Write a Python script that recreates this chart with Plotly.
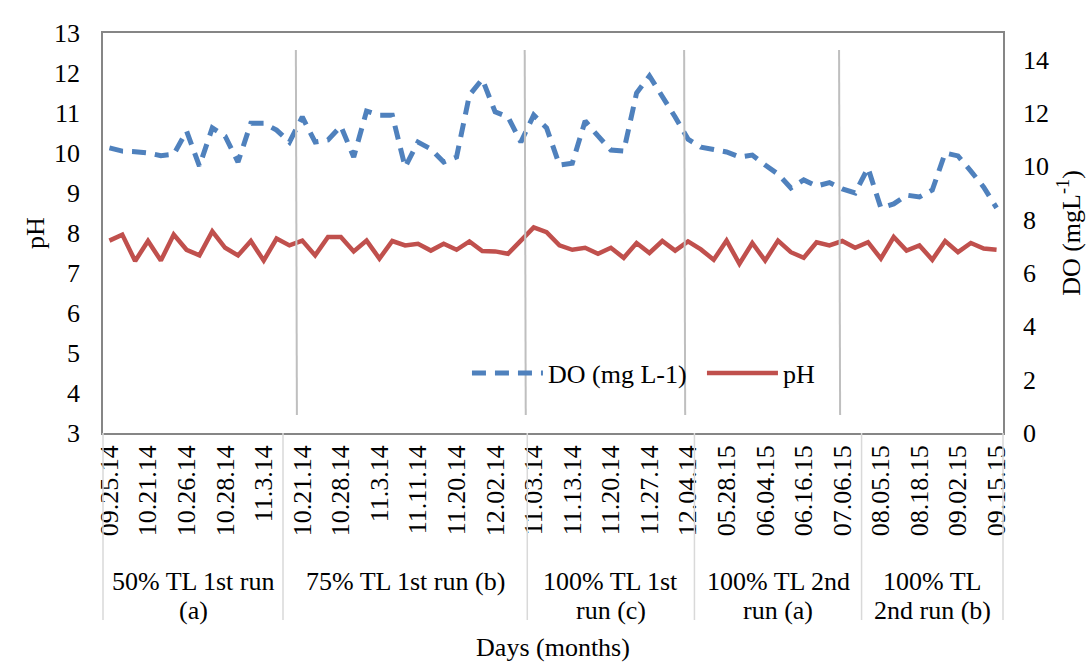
import plotly.graph_objects as go

# ---------------- data ----------------
tick_labels = ["09.25.14", "10.21.14", "10.26.14", "10.28.14", "11.3.14",
               "10.21.14", "10.28.14", "11.3.14", "11.11.14", "11.20.14", "12.02.14",
               "11.03.14", "11.13.14", "11.20.14", "11.27.14", "12.04.14",
               "05.28.15", "06.04.15", "06.16.15", "07.06.15",
               "08.05.15", "08.18.15", "09.02.15", "09.15.15"]
label_every = 3

group_line1 = ["50% TL 1st run", "75% TL 1st run (b)", "100% TL 1st", "100% TL 2nd", "100% TL"]
group_line2 = ["(a)", "", "run (c)", "run (a)", "2nd run (b)"]
group_sizes = [14, 19, 13, 13, 11]

ph = [7.81, 7.96, 7.30, 7.80, 7.31, 7.96, 7.58, 7.44, 8.04, 7.63, 7.44, 7.80, 7.31, 7.86,
      7.69, 7.81, 7.44, 7.90, 7.90, 7.54, 7.81, 7.36, 7.80, 7.69, 7.73, 7.56, 7.73, 7.58, 7.79,
      7.55, 7.54, 7.48, 7.81,
      8.14, 8.02, 7.69, 7.58, 7.63, 7.48, 7.63, 7.38, 7.75, 7.50, 7.80, 7.56, 7.79,
      7.59, 7.33, 7.81, 7.23, 7.75, 7.31, 7.81, 7.52, 7.38, 7.77, 7.69, 7.80, 7.63,
      7.77, 7.36, 7.90, 7.56, 7.69, 7.33, 7.80, 7.52, 7.75, 7.61, 7.58]

do = [10.69, 10.57, 10.55, 10.50, 10.40, 10.45, 11.32, 10.01, 11.44, 11.13, 10.16, 11.62, 11.62, 11.36,
      10.91, 11.85, 10.91, 10.99, 11.51, 10.35, 12.07, 11.92, 11.92, 9.97, 10.91, 10.65, 10.16, 10.35,
      12.67, 13.27, 12.04, 11.85, 10.91,
      11.92, 11.44, 10.05, 10.12, 11.70, 11.14, 10.61, 10.57, 12.75, 13.39, 12.64, 11.85, 11.02,
      10.72, 10.63, 10.54, 10.35, 10.42, 10.05, 9.71, 9.19, 9.49, 9.26, 9.39, 9.15, 9.00,
      9.94, 8.44, 8.59, 8.92, 8.85, 9.11, 10.50, 10.39, 9.82, 9.22, 8.44]

# hand-drawn run dividers inside the plot (category units)
divider_x = [14.5, 32.3, 44.7, 56.75]

n = len(ph)
x = list(range(n))

FONT = "Liberation Serif"
FS = 26
BLUE = "#4F81BD"
RED = "#C0504D"
FRAME = "#868686"
SEP = "#D9D9D9"

fig = go.Figure()
fig.add_trace(go.Scatter(x=x, y=do, name="DO (mg L-1)", mode="lines", yaxis="y2",
                         line=dict(color=BLUE, width=5, dash="14px,9px")))
fig.add_trace(go.Scatter(x=x, y=ph, name="pH", mode="lines", yaxis="y",
                         line=dict(color=RED, width=4.5)))

shapes = []
# dividers inside plot
for dx in divider_x:
    shapes.append(dict(type="line", xref="x", yref="paper", x0=dx, x1=dx + 0.08,
                       y0=0.9575, y1=0.045, line=dict(color="#BFBFBF", width=2)))

# multi-level category separators below the axis
bounds = [0]
for s in group_sizes:
    bounds.append(bounds[-1] + s)
for b in bounds:
    px = b / n
    shapes.append(dict(type="line", xref="paper", yref="paper", x0=px, x1=px,
                       y0=0, y1=-0.4675, line=dict(color=SEP, width=1.5)))

annotations = []
for i in range(len(group_sizes)):
    cx = (bounds[i] + bounds[i + 1] - 1) / 2
    for txt, yy in ((group_line1[i], -0.37), (group_line2[i], -0.443)):
        if txt:
            annotations.append(dict(x=cx, xref="x", y=yy, yref="paper", text=txt,
                                    showarrow=False, yanchor="middle", xanchor="center",
                                    font=dict(family=FONT, size=FS, color="black")))

fig.update_layout(
    width=1086, height=666, autosize=False,
    margin=dict(l=103, r=83, t=33, b=233),
    paper_bgcolor="white", plot_bgcolor="white",
    font=dict(family=FONT, size=FS, color="black"),
    showlegend=True,
    legend=dict(orientation="h", x=0.4044, y=0.15, xanchor="left", yanchor="middle",
                bgcolor="rgba(0,0,0,0)", font=dict(family=FONT, size=FS),
                itemwidth=71, entrywidth=149, tracegroupgap=0),
    shapes=shapes,
    annotations=annotations,
    xaxis=dict(range=[-0.5, n - 0.5], tickmode="array", automargin=False,
               tickvals=x[::label_every], ticktext=tick_labels,
               tickangle=-90, showgrid=False, zeroline=False,
               showline=True, linecolor=FRAME, linewidth=1.5, mirror=True,
               ticks="", tickfont=dict(family=FONT, size=FS),
               title=dict(text="Days (months)", standoff=103,
                          font=dict(family=FONT, size=FS))),
    yaxis=dict(range=[3, 13], dtick=1, showgrid=False, zeroline=False, automargin=False,
               showline=True, linecolor=FRAME, linewidth=1.5, mirror=True,
               ticks="", ticklabelstandoff=16,
               tickfont=dict(family=FONT, size=FS),
               title=dict(text="pH", standoff=2, font=dict(family=FONT, size=FS))),
    yaxis2=dict(range=[0, 15], tickmode="array", tickvals=list(range(0, 15, 2)),
                overlaying="y", side="right", showgrid=False, zeroline=False,
                automargin=False, showline=False, ticks="", ticklabelstandoff=19,
                tickfont=dict(family=FONT, size=FS),
                title=dict(text="DO (mgL<sup>-1</sup>)", standoff=18,
                           font=dict(family=FONT, size=FS))),
)

fig.write_html("out.html")
